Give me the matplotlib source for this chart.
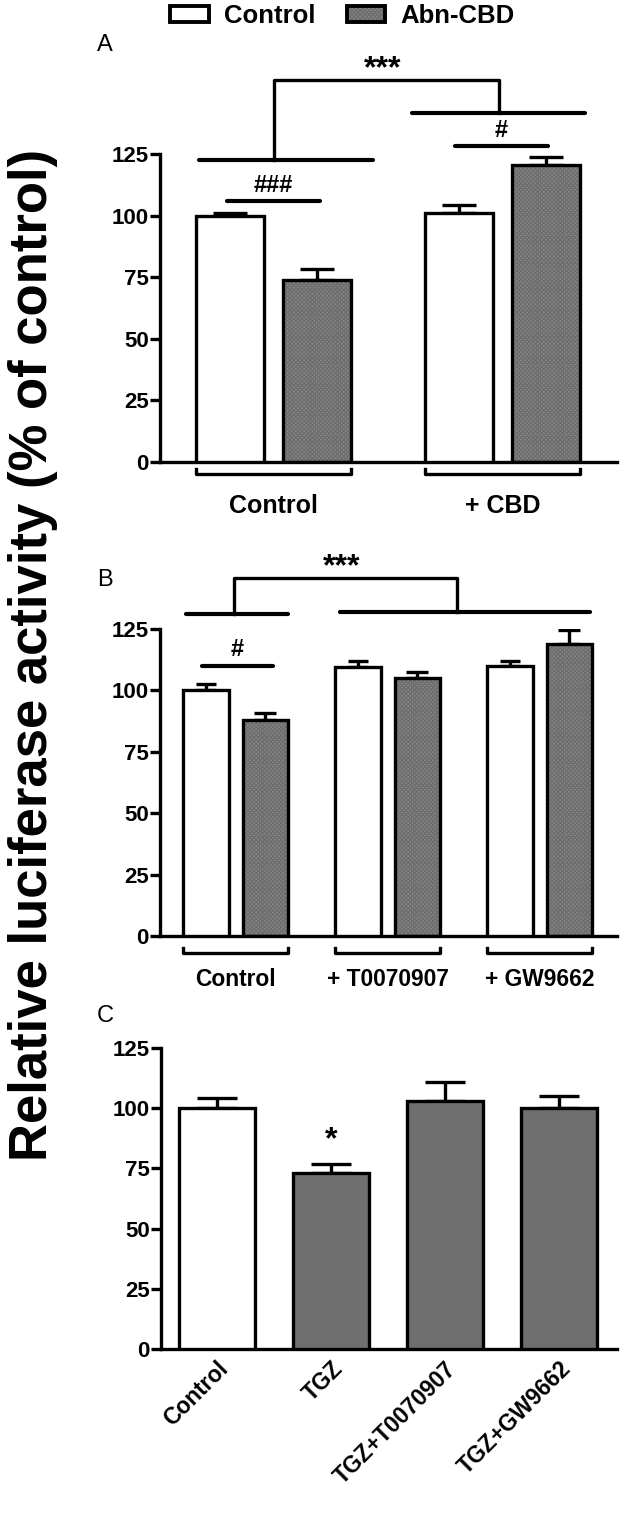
import numpy as np
from matplotlib import pyplot as plt
from matplotlib.patches import Patch
from matplotlib.legend_handler import HandlerTuple

plt.rcParams['font.family'] = ['Liberation Sans', 'DejaVu Sans']
plt.rcParams['font.weight'] = 'bold'

# panel A
a_groups = ['Control', '+ CBD']
a_control = [100, 101]
a_control_err = [1, 3.4]
a_abn = [74, 120.5]
a_abn_err = [4.4, 3.2]

# panel B
b_groups = ['Control', '+ T0070907', '+ GW9662']
b_control = [100, 109.5, 109.8]
b_control_err = [2.7, 2.5, 2.2]
b_abn = [88, 105, 119]
b_abn_err = [2.8, 2.3, 5.7]

# panel C
c_labels = ['Control', 'TGZ', 'TGZ+T0070907', 'TGZ+GW9662']
c_vals = [100, 73.3, 103, 100.3]
c_err = [4.2, 3.6, 8, 4.6]

LW = 2.4
GRAY_FACE = '#8a8a8a'
GRAY_HATCH = '#6e6e6e'
C_GRAY = '#6f6f6f'
FS = 16


def style_axis(ax, xlim):
    ax.set_xlim(*xlim)
    ax.set_ylim(0, 125)
    ax.set_yticks(np.arange(0, 126, 25))
    for side in ('top', 'right'):
        ax.spines[side].set_visible(False)
    for side in ('left', 'bottom'):
        ax.spines[side].set_linewidth(LW)
    ax.tick_params(axis='y', length=7, width=LW, labelsize=FS, pad=1)
    ax.tick_params(axis='x', length=0)
    for lab in ax.get_yticklabels():
        lab.set_fontweight('bold')


def textured_bars(ax, x, vals, width):
    ax.bar(x, vals, width, color=GRAY_FACE, edgecolor=GRAY_HATCH, hatch='xxxxxxxx', linewidth=0, zorder=2)
    ax.bar(x, vals, width, fill=False, edgecolor='k', linewidth=LW, zorder=3)


def white_bars(ax, x, vals, width):
    ax.bar(x, vals, width, color='white', edgecolor='k', linewidth=LW, zorder=3)


def err_up(ax, x, vals, errs, cap):
    ax.errorbar(x, vals, yerr=[np.zeros(len(errs)), errs], fmt='none', ecolor='k',
                elinewidth=LW, capsize=cap, capthick=LW, zorder=1)


def sig_line(ax, x0, x1, y, lw=3.0):
    ax.plot([x0, x1], [y, y], color='k', lw=lw, solid_capstyle='round', clip_on=False, zorder=4)


def bracket(ax, xl, yl, xr, yr, ytop):
    ax.plot([xl, xl, xr, xr], [yl, ytop, ytop, yr], color='k', lw=LW, clip_on=False, zorder=4)


def group_bracket(ax, x0, x1, y, h):
    ax.plot([x0, x0, x1, x1], [y + h, y, y, y + h], color='k', lw=LW,
            solid_joinstyle='round', clip_on=False, zorder=4)


fig = plt.figure(figsize=(6.3, 15.26), dpi=100)

# ---------------- A ----------------
axA = fig.add_axes([0.254, 0.6972, 0.7254, 0.2018])
xa = np.arange(len(a_groups))
wa, offa = 0.297, 0.19
err_up(axA, xa - offa, a_control, a_control_err, 12)
err_up(axA, xa + offa, a_abn, a_abn_err, 12)
white_bars(axA, xa - offa, a_control, wa)
textured_bars(axA, xa + offa, a_abn, wa)
style_axis(axA, (-0.496, 1.5))
axA.set_xticks([])
sig_line(axA, -0.203, 0.203, 106)
axA.text(0, 107.5, '###', ha='center', va='bottom', fontsize=17)
sig_line(axA, 0.793, 1.199, 128.5)
axA.text(0.996, 130, '#', ha='center', va='bottom', fontsize=17)
sig_line(axA, -0.325, 0.434, 122.8)
sig_line(axA, 0.605, 1.36, 141.8)
bracket(axA, 0.0, 122.8, 0.985, 141.8, 155)
axA.text(0.478, 153.2, '***', ha='center', va='bottom', fontsize=23)
for i, g in enumerate(a_groups):
    group_bracket(axA, i - 0.338, i + 0.338, -4.8, 1.8)
    axA.text(i, -18, g, ha='center', va='center', fontsize=18)

# ---------------- B ----------------
axB = fig.add_axes([0.254, 0.3866, 0.7254, 0.2012])
xb = np.arange(len(b_groups))
wb, offb = 0.30, 0.196
err_up(axB, xb - offb, b_control, b_control_err, 7)
err_up(axB, xb + offb, b_abn, b_abn_err, 8)
white_bars(axB, xb - offb, b_control, wb)
textured_bars(axB, xb + offb, b_abn, wb)
style_axis(axB, (-0.497, 2.51))
axB.set_xticks([])
sig_line(axB, -0.22, 0.247, 110)
axB.text(0.0135, 112, '#', ha='center', va='bottom', fontsize=17)
sig_line(axB, -0.326, 0.345, 131)
sig_line(axB, 0.6875, 2.33, 131.8)
bracket(axB, -0.01, 131, 1.457, 131.8, 145.6)
axB.text(0.70, 144.2, '***', ha='center', va='bottom', fontsize=23)
for i, g in enumerate(b_groups):
    group_bracket(axB, i - 0.345, i + 0.345, -7, 2.2)
    axB.text(i, -17.5, g, ha='center', va='center', fontsize=16.4)

# ---------------- C ----------------
axC = fig.add_axes([0.2556, 0.116, 0.7238, 0.1972])
xc = np.arange(len(c_labels))
err_up(axC, xc, c_vals, c_err, 14.5)
axC.bar(xc, c_vals, 0.667, color=['white'] + [C_GRAY] * 3, edgecolor='k', linewidth=LW, zorder=3)
style_axis(axC, (-0.49, 3.51))
axC.set_xticks(xc)
axC.set_xticklabels(c_labels, rotation=45, ha='right', va='top', rotation_mode='anchor',
                    fontsize=16.5, fontweight='bold')
axC.tick_params(axis='x', pad=6)
axC.text(1, 80.5, '*', ha='center', va='bottom', fontsize=23)

# ---------------- shared ----------------
fig.text(0.052, 0.571, 'Relative luciferase activity (% of control)', rotation=90,
         ha='center', va='center', fontsize=38, fontweight='bold')
fig.text(0.167, 0.9705, 'A', fontsize=17, fontweight='normal', ha='center', va='center')
fig.text(0.167, 0.620, 'B', fontsize=17, fontweight='normal', ha='center', va='center')
fig.text(0.167, 0.3345, 'C', fontsize=17, fontweight='normal', ha='center', va='center')

h_white = Patch(facecolor='white', edgecolor='k', linewidth=LW + 0.4)
h_gray = (Patch(facecolor=GRAY_FACE, edgecolor=GRAY_HATCH, hatch='xxxxxxxx', linewidth=0),
          Patch(fill=False, edgecolor='k', linewidth=LW + 0.4))
fig.legend([h_white, h_gray], ['Control', 'Abn-CBD'], loc='center', bbox_to_anchor=(0.544, 0.9895),
           ncol=2, frameon=False, prop={'size': 18.5, 'weight': 'bold'},
           handlelength=1.5, handleheight=0.62, handletextpad=0.6, columnspacing=1.2,
           handler_map={tuple: HandlerTuple(ndivide=1, pad=0)})

fig.savefig('out.png', dpi=100)
